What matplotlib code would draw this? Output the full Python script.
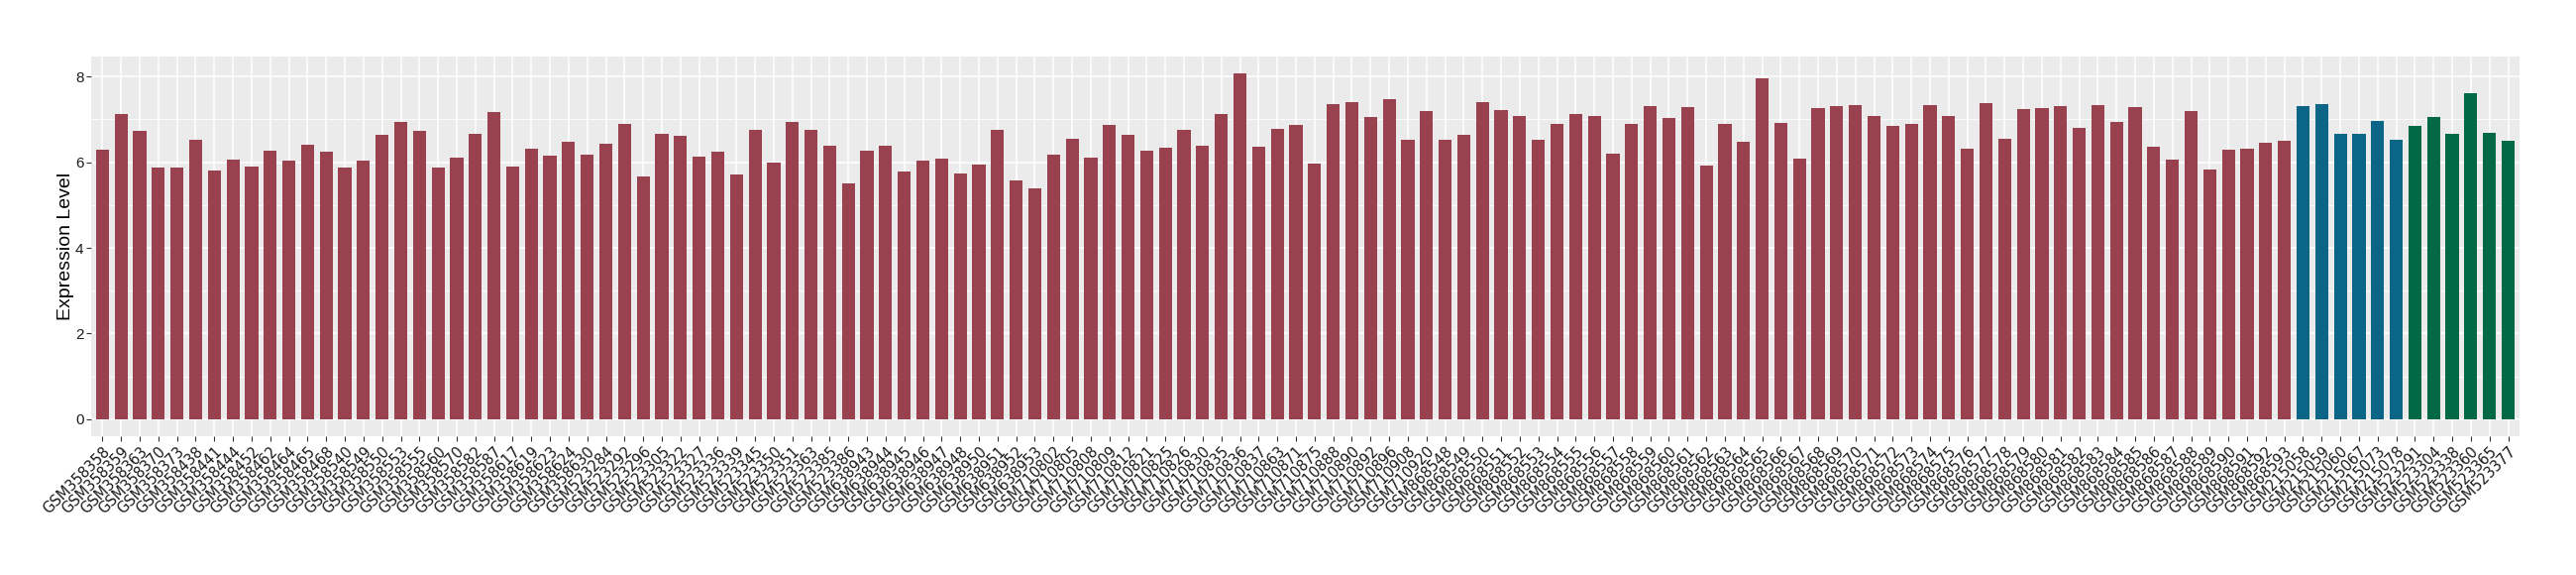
import matplotlib.pyplot as plt
import numpy as np

# Sample labels per group
group1_samples = [
    'GSM358358', 'GSM358359', 'GSM358363', 'GSM358370', 'GSM358373', 'GSM358438',
    'GSM358441', 'GSM358444', 'GSM358452', 'GSM358462', 'GSM358464', 'GSM358465',
    'GSM358468', 'GSM358540', 'GSM358549', 'GSM358550', 'GSM358553', 'GSM358555',
    'GSM358560', 'GSM358570', 'GSM358582', 'GSM358587', 'GSM358617', 'GSM358619',
    'GSM358623', 'GSM358624', 'GSM358630',
    'GSM523284', 'GSM523292', 'GSM523296', 'GSM523305', 'GSM523322', 'GSM523327',
    'GSM523336', 'GSM523339', 'GSM523345', 'GSM523350', 'GSM523351', 'GSM523363',
    'GSM523385', 'GSM523386',
    'GSM638943', 'GSM638944', 'GSM638945', 'GSM638946', 'GSM638947', 'GSM638948',
    'GSM638950', 'GSM638951', 'GSM638952', 'GSM638953',
    'GSM710802', 'GSM710805', 'GSM710808', 'GSM710809', 'GSM710812', 'GSM710821',
    'GSM710825', 'GSM710826', 'GSM710830', 'GSM710835', 'GSM710836', 'GSM710837',
    'GSM710863', 'GSM710871', 'GSM710875', 'GSM710888', 'GSM710890', 'GSM710892',
    'GSM710896', 'GSM710908', 'GSM710920',
    'GSM868548', 'GSM868549', 'GSM868550', 'GSM868551', 'GSM868552', 'GSM868553',
    'GSM868554', 'GSM868555', 'GSM868556', 'GSM868557', 'GSM868558', 'GSM868559',
    'GSM868560', 'GSM868561', 'GSM868562', 'GSM868563', 'GSM868564', 'GSM868565',
    'GSM868566', 'GSM868567', 'GSM868568', 'GSM868569', 'GSM868570', 'GSM868571',
    'GSM868572', 'GSM868573', 'GSM868574', 'GSM868575', 'GSM868576', 'GSM868577',
    'GSM868578', 'GSM868579', 'GSM868580', 'GSM868581', 'GSM868582', 'GSM868583',
    'GSM868584', 'GSM868585', 'GSM868586', 'GSM868587', 'GSM868588', 'GSM868589',
    'GSM868590', 'GSM868591', 'GSM868592', 'GSM868593',
]
group2_samples = ['GSM215058', 'GSM215059', 'GSM215060', 'GSM215067', 'GSM215073', 'GSM215078']
group3_samples = ['GSM523291', 'GSM523304', 'GSM523338', 'GSM523360', 'GSM523365', 'GSM523377']

# Expression values
group1_values = [
    6.30, 7.13, 6.74, 5.88, 5.88, 6.53, 5.81, 6.06, 5.90, 6.27, 6.04, 6.41,
    6.25, 5.88, 6.04, 6.64, 6.94, 6.74, 5.88, 6.11, 6.67, 7.17, 5.90, 6.32,
    6.16, 6.48, 6.18,
    6.43, 6.90, 5.67, 6.67, 6.62, 6.13, 6.25, 5.72, 6.76, 5.99, 6.94, 6.76,
    6.39, 5.51,
    6.27, 6.39, 5.79, 6.04, 6.09, 5.74, 5.95, 6.76, 5.58, 5.39,
    6.18, 6.55, 6.11, 6.87, 6.64, 6.27, 6.34, 6.76, 6.39, 7.13, 8.08, 6.36,
    6.78, 6.87, 5.97, 7.36, 7.41, 7.06, 7.48, 6.53, 7.20,
    6.53, 6.64, 7.41, 7.22, 7.08, 6.53, 6.90, 7.13, 7.08, 6.20, 6.90, 7.31,
    7.04, 7.29, 5.92, 6.90, 6.48, 7.96, 6.92, 6.09, 7.27, 7.31, 7.34, 7.08,
    6.85, 6.90, 7.34, 7.08, 6.32, 7.38, 6.55, 7.24, 7.27, 7.31, 6.80, 7.34,
    6.94, 7.29, 6.36, 6.06, 7.20, 5.83, 6.29, 6.32, 6.46, 6.50,
]
group2_values = [7.31, 7.36, 6.67, 6.67, 6.97, 6.53]
group3_values = [6.85, 7.06, 6.67, 7.62, 6.69, 6.50]

group_colors = ['#9A4150', '#0B6587', '#016846']

samples = group1_samples + group2_samples + group3_samples
values = group1_values + group2_values + group3_values
colors = ([group_colors[0]] * len(group1_values) + [group_colors[1]] * len(group2_values)
          + [group_colors[2]] * len(group3_values))

plt.rcParams['font.family'] = ['Liberation Sans', 'DejaVu Sans']

fig = plt.figure(figsize=(26, 5.8), dpi=100)
ax = fig.add_axes([0.0354, 0.2414, 0.9426, 0.6603])

x = np.arange(len(samples))
ax.bar(x, values, width=0.7, color=colors, zorder=3)

# ggplot-like panel
ax.set_facecolor('#EBEBEB')
for side in ax.spines.values():
    side.set_visible(False)
ax.set_xlim(-0.6, len(samples) - 0.4)
ax.set_ylim(-0.40, 8.47)
ax.set_yticks([0, 2, 4, 6, 8])
ax.set_yticks([1, 3, 5, 7], minor=True)
ax.grid(which='major', color='white', linewidth=1.1, zorder=0)
ax.grid(which='minor', axis='y', color='white', linewidth=0.55, zorder=0)
ax.tick_params(axis='both', which='major', length=3.5, width=0.8, color='#333333',
               labelsize=11, labelcolor='#1A1A1A', pad=2)
ax.tick_params(axis='y', which='minor', length=0)

ax.set_xticks(x)
ax.set_xticklabels(samples, rotation=45, ha='right', rotation_mode='anchor',
                   family='DejaVu Sans', fontsize=10.5)
ax.set_ylabel('Expression Level', fontsize=14, labelpad=1)

fig.savefig('out.png', dpi=100)
